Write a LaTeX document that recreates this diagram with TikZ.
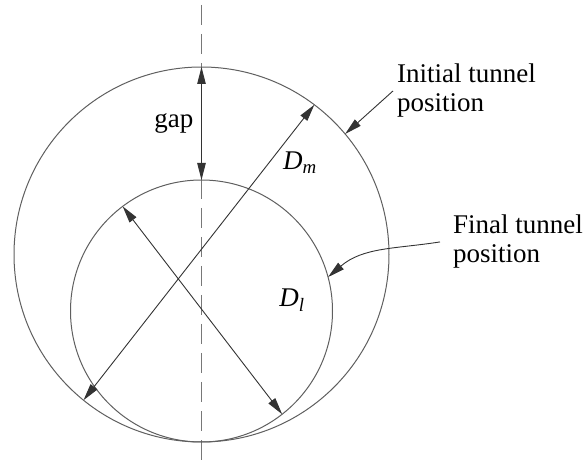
\documentclass[tikz,border=0pt]{standalone}
\usepackage{fontspec}
\setmainfont{Liberation Serif}
\newfontfamily\labelfont{Liberation Serif}
\usetikzlibrary{arrows.meta,calc,positioning}
\definecolor{tunnelgray}{RGB}{95,95,95}
\definecolor{axisgray}{RGB}{120,120,120}
\tikzset{
  tunnel/.style={circle, draw=tunnelgray, line width=1pt, inner sep=0pt, outer sep=0pt},
  dimline/.style={{Triangle[length=17pt,width=8.5pt]}-{Triangle[length=17pt,width=8.5pt]},
                  line width=0.9pt, black!80},
  ptr/.style={-{Triangle[length=17pt,width=8.5pt]}, line width=0.9pt, black!80},
  axis/.style={draw=axisgray, line width=0.9pt, dash pattern=on 20pt off 9pt},
  lbl/.style={font=\labelfont\fontsize{27}{29}\selectfont, inner sep=0pt},
  txt/.style={lbl, align=left, anchor=north west}
}

\begin{document}
\begin{tikzpicture}[x=1pt,y=-1pt]
\useasboundingbox (0,0) rectangle (587,465);
\coordinate (atop) at (201.5,5);
\coordinate (abot) at (201.5,465);
\draw[axis] (atop) -- (abot);
\node[tunnel, minimum size=375pt] (init) at (201.5,254.5) {};
\node[tunnel, minimum size=262pt] (final) at (201.5,311) {};
\draw[dimline] (init.north) -- (final.north);
\node[lbl, left=8pt] (gaplbl) at ($(init.north)!0.5!(final.north)$) {gap};
\draw[dimline] (init.231) -- (init.53);
\node[lbl] (dm) at (300,163) {\textit{D}\textsubscript{\textit{m}}};
\draw[dimline] (final.127.7) -- (final.308.3);
\node[lbl] (dl) at (292,300) {\textit{D}\textsubscript{\textit{l}}};
\node[txt] (initlbl) at (397,64) {Initial tunnel\\position};
\draw[ptr] ([xshift=-4pt]initlbl.west) -- (init.40.7);
\node[txt] (finallbl) at (453,215) {Final tunnel\\position};
\draw[ptr] ([xshift=-13pt]finallbl.west) .. controls +(-45,7) and +(35,-30) .. (final.15.5);
\end{tikzpicture}
\end{document}
